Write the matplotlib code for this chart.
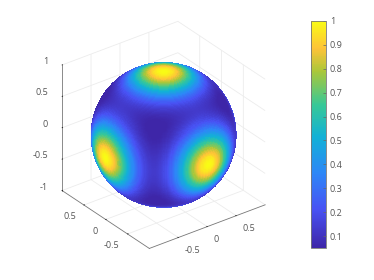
import numpy as np
import matplotlib
matplotlib.use("Agg")
import matplotlib.pyplot as plt
from matplotlib.colors import LinearSegmentedColormap, Normalize
from matplotlib.cm import ScalarMappable

# Values
xy_ticks = [-0.5, 0, 0.5]
xy_labels = ['-0.5', '0', '0.5']
z_ticks = [-1, -0.5, 0, 0.5, 1]
z_labels = ['-1', '-0.5', '0', '0.5', '1']
cbar_ticks = [0.1, 0.2, 0.3, 0.4, 0.5, 0.6, 0.7, 0.8, 0.9, 1]
cbar_labels = ['0.1', '0.2', '0.3', '0.4', '0.5', '0.6', '0.7', '0.8', '0.9', '1']
color_min = 0.05
color_max = 1.0
# Continuous field: lobes along the axes; the exponent was estimated from the
# lobe widths in the picture. It is a model of the surface, not listed samples.
lobe_exponent = 8
cmap_pos = [0, 0.17, 0.33, 0.49, 0.63, 0.78, 0.88, 1]
cmap_col = ['#3E26A8', '#4852F4', '#2D87F7', '#12B1D6', '#37C897', '#ABC739', '#FEC338', '#F9FB15']

parula = LinearSegmentedColormap.from_list('parula_like', list(zip(cmap_pos, cmap_col)), N=256)
norm = Normalize(color_min, color_max)

plt.rcParams['font.family'] = ['Open Sans', 'DejaVu Sans']
TXT = '#555555'
W, H = 374, 280
fig = plt.figure(figsize=(W / 100, H / 100), dpi=100)

cx, cy, side = 160.5, 138.0, 230
ax = fig.add_axes([(cx - side / 2) / W, (H - cy - side / 2) / H, side / W, side / H],
                  projection='3d')
ax.set_proj_type('ortho')
ax.view_init(elev=30, azim=-127)
ax.set_box_aspect((1, 1, 1), zoom=1.06)
ax.patch.set_alpha(0)

th = np.linspace(0, 2 * np.pi, 361)
ph = np.linspace(0, np.pi, 181)
T, P = np.meshgrid(th, ph)
X = np.sin(P) * np.cos(T)
Y = np.sin(P) * np.sin(T)
Z = np.cos(P)
F = X**lobe_exponent + Y**lobe_exponent + Z**lobe_exponent
ax.plot_surface(X, Y, Z, facecolors=parula(norm(F)), rstride=1, cstride=1,
                shade=False, linewidth=0, antialiased=False)

ax.set_xlim(-1, 1); ax.set_ylim(-1, 1); ax.set_zlim(-1, 1)
ax.set_xticks(xy_ticks, xy_labels, ha='left', va='center')
ax.set_yticks(xy_ticks, xy_labels, ha='right', va='center')
ax.set_zticks(z_ticks, z_labels, ha='right', va='baseline')
for a in (ax.xaxis, ax.yaxis, ax.zaxis):
    a.set_pane_color((1, 1, 1, 0))
    a.pane.set_edgecolor((1, 1, 1, 0))
    a.line.set_color('#777777')
    a.line.set_linewidth(0.6)
    a._axinfo['grid'].update(color='#ececec', linewidth=0.6)
    a._axinfo['tick'].update(inward_factor=0.0, outward_factor=0.06)
    a._axinfo['tick']['linewidth'] = {True: 0.5, False: 0.5}
    a._axinfo['tick']['color'] = '#777777'
ax.tick_params(labelsize=6.5, labelcolor=TXT, pad=-2)

cax = fig.add_axes([311.3 / W, (H - 248) / H, 14.4 / W, 227 / H])
sm = ScalarMappable(norm=norm, cmap=parula)
cb = fig.colorbar(sm, cax=cax)
cb.set_ticks(cbar_ticks, labels=cbar_labels)
cb.ax.tick_params(direction='in', length=2, width=0.5, color='#666666',
                  labelsize=6.5, labelcolor=TXT, pad=3)
cb.outline.set_edgecolor('#777777')
cb.outline.set_linewidth(0.6)

fig.savefig('out.png', dpi=100, facecolor='white')
